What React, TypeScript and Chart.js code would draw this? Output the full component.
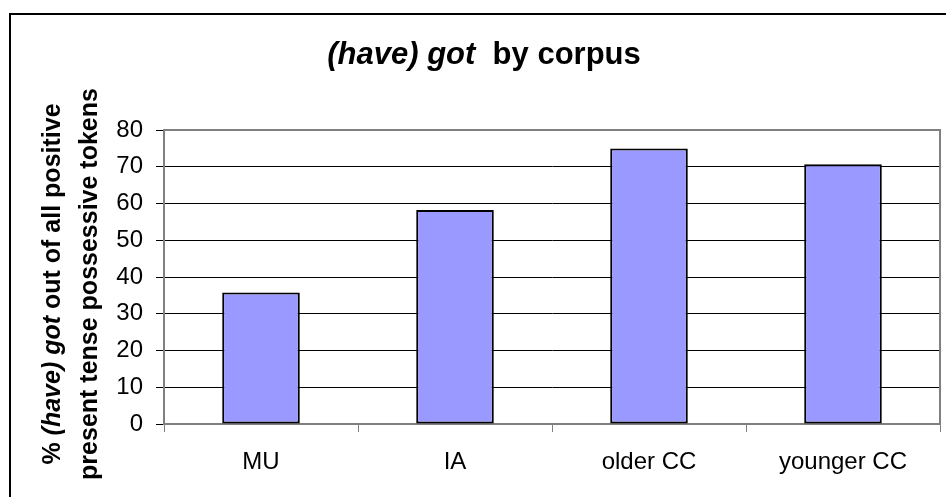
import React, { useEffect, useRef } from 'react';
import { Chart, registerables } from 'chart.js';

Chart.register(...registerables);

// ---- data ----
const categories = ['MU', 'IA', 'older CC', 'younger CC'];
const gotPercent = [35.8, 58.2, 75.0, 70.7];
const yMin = 0;
const yMax = 80;
const yStep = 10;

type Part = { text: string; italic: boolean };
const titleParts: Part[] = [
  { text: '(have) got', italic: true },
  { text: '  by corpus', italic: false },
];
const yTitleLine1: Part[] = [
  { text: '% ', italic: false },
  { text: '(have) got', italic: true },
  { text: ' out of all positive', italic: false },
];
const yTitleLine2: Part[] = [{ text: 'present tense possessive tokens', italic: false }];

const FONT = '"Liberation Sans", Arial, Helvetica, sans-serif';

function drawRich(ctx: CanvasRenderingContext2D, parts: Part[], cx: number, cy: number, size: number) {
  const fontOf = (p: Part) => `${p.italic ? 'italic ' : ''}bold ${size}px ${FONT}`;
  const widths = parts.map((p) => {
    ctx.font = fontOf(p);
    return ctx.measureText(p.text).width;
  });
  const total = widths.reduce((a, b) => a + b, 0);
  let x = cx - total / 2;
  ctx.textBaseline = 'middle';
  ctx.textAlign = 'left';
  ctx.fillStyle = '#000';
  parts.forEach((p, i) => {
    ctx.font = fontOf(p);
    ctx.fillText(p.text, x, cy);
    x += widths[i];
  });
}

const decorPlugin = {
  id: 'decor',
  beforeDraw(chart: any) {
    const ctx = chart.ctx as CanvasRenderingContext2D;
    ctx.save();
    ctx.fillStyle = '#fff';
    ctx.fillRect(0, 0, chart.width, chart.height);
    ctx.restore();
  },
  afterDraw(chart: any) {
    const ctx = chart.ctx as CanvasRenderingContext2D;
    const { left, top, right, bottom } = chart.chartArea;
    ctx.save();
    // plot area border (top & right)
    ctx.strokeStyle = '#808080';
    ctx.lineWidth = 2;
    ctx.beginPath();
    ctx.moveTo(left, top);
    ctx.lineTo(right, top);
    ctx.lineTo(right, bottom);
    ctx.stroke();
    // outer chart border
    ctx.strokeStyle = '#000';
    ctx.lineWidth = 2;
    ctx.beginPath();
    ctx.moveTo(10, chart.height + 5);
    ctx.lineTo(10, 14);
    ctx.lineTo(chart.width + 5, 14);
    ctx.stroke();
    // chart title
    drawRich(ctx, titleParts, 484, 55, 31);
    // y axis title (rotated, two lines)
    const cy = (top + bottom) / 2 + 7;
    ctx.save();
    ctx.translate(53, cy);
    ctx.rotate(-Math.PI / 2);
    drawRich(ctx, yTitleLine1, 0, 0, 25);
    ctx.restore();
    ctx.save();
    ctx.translate(90, cy);
    ctx.rotate(-Math.PI / 2);
    drawRich(ctx, yTitleLine2, 0, 0, 25);
    ctx.restore();
    ctx.restore();
  },
};

export default function App() {
  const ref = useRef<HTMLCanvasElement | null>(null);
  useEffect(() => {
    if (!ref.current) return;
    const chart = new Chart(ref.current, {
      type: 'bar',
      data: {
        labels: categories,
        datasets: [
          {
            data: gotPercent,
            backgroundColor: '#9999FF',
            borderColor: '#000',
            borderWidth: 2,
            borderSkipped: false,
            barPercentage: 0.4,
            categoryPercentage: 1.0,
          },
        ],
      },
      options: {
        responsive: false,
        animation: false,
        devicePixelRatio: 1,
        layout: { padding: { top: 130, right: 6, left: 0, bottom: 0 } },
        plugins: {
          legend: { display: false },
          title: { display: false },
          tooltip: { enabled: false },
        },
        scales: {
          x: {
            grid: {
              display: true,
              drawOnChartArea: false,
              drawTicks: true,
              tickLength: 8,
              color: '#808080',
              offset: true,
            },
            border: { color: '#808080', width: 2 },
            ticks: {
              color: '#000',
              font: { family: FONT, size: 24 },
              padding: 16,
              maxRotation: 0,
            },
            afterFit(scale: any) {
              scale.height = 73;
            },
          },
          y: {
            min: yMin,
            max: yMax,
            ticks: {
              stepSize: yStep,
              color: '#000',
              font: { family: FONT, size: 24 },
              padding: 13,
            },
            grid: {
              color: '#000',
              tickColor: '#000',
              tickLength: 8,
              lineWidth: 1,
            },
            border: { color: '#808080', width: 2 },
            afterFit(scale: any) {
              scale.width = 164;
            },
          },
        },
      },
      plugins: [decorPlugin],
    });
    return () => chart.destroy();
  }, []);
  return (
    <div style={{ position: 'fixed', left: 0, top: 0, width: 946, height: 497, background: '#fff' }}>
      <canvas ref={ref} width={946} height={497} style={{ display: 'block' }} />
    </div>
  );
}
